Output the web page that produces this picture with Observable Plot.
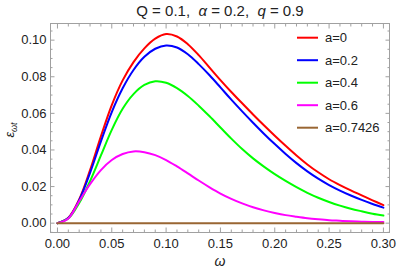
<!DOCTYPE html>
<html><head><meta charset="utf-8">
<script src="https://cdn.jsdelivr.net/npm/d3@7"></script>
<script src="https://cdn.jsdelivr.net/npm/@observablehq/plot@0.6"></script>
<style>body{margin:0;background:#fff} svg{display:block}</style>
</head><body><div id="chart"></div>
<script>
// ---- data ----
const omega = [0,0.01,0.02,0.03,0.04,0.05,0.06,0.07,0.08,0.09,0.10,0.11,0.12,0.13,0.14,0.15,0.16,0.17,0.18,0.19,0.20,0.21,0.22,0.23,0.24,0.25,0.26,0.27,0.28,0.29,0.30];
const eps_a0 = [0,0.0030,0.0130,0.0290,0.0475,0.0645,0.0780,0.0880,0.0955,0.1008,0.1033,0.1020,0.0978,0.0918,0.0850,0.0782,0.0717,0.0655,0.0594,0.0535,0.0478,0.0423,0.0370,0.0321,0.0278,0.0240,0.0208,0.0179,0.0152,0.0125,0.0099];
const eps_a02 = [0,0.0028,0.0125,0.0275,0.0447,0.0607,0.0737,0.0837,0.0909,0.0953,0.0971,0.0960,0.0923,0.0869,0.0808,0.0742,0.0675,0.0611,0.0549,0.0489,0.0432,0.0378,0.0328,0.0283,0.0243,0.0208,0.0178,0.0151,0.0127,0.0105,0.0085];
const eps_a04 = [0,0.0025,0.0110,0.0230,0.0370,0.0510,0.0625,0.0705,0.0755,0.0775,0.0767,0.0738,0.0695,0.0642,0.0584,0.0523,0.0462,0.0405,0.0354,0.0309,0.0268,0.0231,0.0197,0.0166,0.0139,0.0116,0.0096,0.0079,0.0065,0.0052,0.0042];
const eps_a06 = [0,0.0025,0.0120,0.0213,0.0290,0.0345,0.0378,0.0392,0.0388,0.0372,0.0345,0.0310,0.0272,0.0233,0.0196,0.0162,0.0133,0.0108,0.0087,0.0070,0.0056,0.0044,0.0035,0.0027,0.0021,0.0016,0.0013,0.0010,0.0008,0.0007,0.0006];
const eps_a07426 = [0,0,0,0,0,0,0,0,0,0,0,0,0,0,0,0,0,0,0,0,0,0,0,0,0,0,0,0,0,0,0];
const seriesLabels = ["a=0","a=0.2","a=0.4","a=0.6","a=0.7426"];
const seriesColors = ["#ff0000","#0000ff","#00ff00","#ff00ff","#996633"];
const xTicks = [0,0.05,0.10,0.15,0.20,0.25,0.30];
const yTicks = [0,0.02,0.04,0.06,0.08,0.10];

// ---- build table ----
const allSeries = [eps_a0, eps_a02, eps_a04, eps_a06, eps_a07426];
const rows = [];
allSeries.forEach((vals, s) => vals.forEach((v, i) => rows.push({w: omega[i], e: v, series: seriesLabels[s]})));

const xMinor = d3.range(0, 31).map(i => i / 100).filter(v => Math.round(v * 100) % 5 !== 0);
const yMinor = d3.range(-1, 22).map(i => i * 0.005).filter(v => Math.round(v * 1000) % 20 !== 0);

const tickColor = "#a0a0a0";
const tickLab = {tickSize: 0, fill: "#222", label: null};
const fmt = d3.format(".2f");

const chart = Plot.plot({
  width: 397, height: 273,
  marginLeft: 50, marginRight: 8, marginTop: 23, marginBottom: 41,
  x: {domain: [-0.0064, 0.3056], label: null},
  y: {domain: [-0.0051, 0.1091], label: null},
  color: {domain: seriesLabels, range: seriesColors},
  style: {fontFamily: "'Liberation Sans', Arial, sans-serif", fontSize: "13px", background: "#fff", color: "#222"},
  marks: [
    // ticks (inward, on all four sides)
    Plot.axisX({anchor: "bottom", ticks: xTicks, tickSize: -4.5, fill: "none", stroke: tickColor, label: null}),
    Plot.axisX({anchor: "bottom", ticks: xMinor, tickSize: -2.5, fill: "none", stroke: tickColor, label: null}),
    Plot.axisX({anchor: "top", ticks: xTicks, tickSize: -4.5, fill: "none", stroke: tickColor, label: null}),
    Plot.axisX({anchor: "top", ticks: xMinor, tickSize: -2.5, fill: "none", stroke: tickColor, label: null}),
    Plot.axisY({anchor: "left", ticks: yTicks, tickSize: -4.5, fill: "none", stroke: tickColor, label: null}),
    Plot.axisY({anchor: "left", ticks: yMinor, tickSize: -2.5, fill: "none", stroke: tickColor, label: null}),
    Plot.axisY({anchor: "right", ticks: yTicks, tickSize: -4.5, fill: "none", stroke: tickColor, label: null}),
    Plot.axisY({anchor: "right", ticks: yMinor, tickSize: -2.5, fill: "none", stroke: tickColor, label: null}),
    // tick labels
    Plot.axisX({anchor: "bottom", ticks: xTicks, tickFormat: fmt, tickPadding: 6, ...tickLab}),
    Plot.axisY({anchor: "left", ticks: yTicks, tickFormat: fmt, tickPadding: 4, ...tickLab}),
    Plot.frame({stroke: "#a0a0a0"}),
    Plot.line(rows, {x: "w", y: "e", z: "series", stroke: "series", strokeWidth: 2, curve: "catmull-rom"})
  ]
});
document.getElementById("chart").appendChild(chart);

// ---- titles, axis labels, legend ----
const svg = d3.select(chart);
const title = svg.append("text").attr("x", 220).attr("y", 16).attr("text-anchor", "middle")
  .style("font-size", "15px").attr("fill", "#222");
title.append("tspan").text("Q = 0.1,\u00a0\u00a0");
title.append("tspan").attr("font-style", "italic").text("α");
title.append("tspan").text(" = 0.2,\u00a0\u00a0");
title.append("tspan").attr("font-style", "italic").text("q");
title.append("tspan").text(" = 0.9");

svg.append("text").attr("x", 220).attr("y", 266).attr("text-anchor", "middle")
  .style("font-size", "14px").attr("font-style", "italic").attr("fill", "#222").text("ω");

const yl = svg.append("text").attr("transform", "translate(14,130) rotate(-90)").attr("text-anchor", "middle")
  .style("font-size", "13px").attr("fill", "#222");
yl.append("tspan").attr("font-style", "italic").text("ε");
yl.append("tspan").attr("font-style", "italic").attr("dy", 3).style("font-size", "9px").text("ωt");

const lg = svg.append("g");
seriesLabels.forEach((lab, i) => {
  const y = 37.7 + i * 22.5;
  lg.append("line").attr("x1", 297).attr("x2", 318).attr("y1", y).attr("y2", y)
    .attr("stroke", seriesColors[i]).attr("stroke-width", 2);
  lg.append("text").attr("x", 325).attr("y", y).attr("dy", "0.35em").attr("text-anchor", "start")
    .style("font-size", "13px").attr("fill", "#222").text(lab);
});
</script>
</body></html>
